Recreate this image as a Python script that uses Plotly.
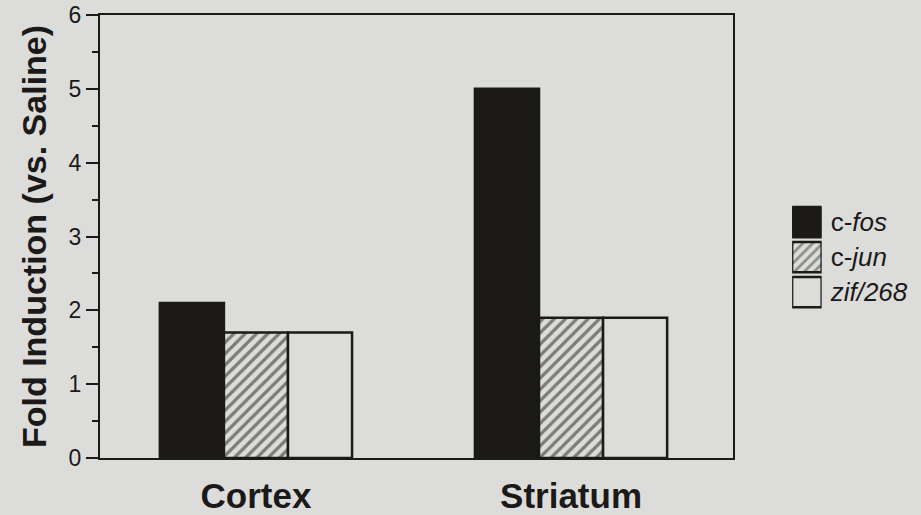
import plotly.graph_objects as go

regions = ["Cortex", "Striatum"]
c_fos = [2.1, 5.0]
c_jun = [1.7, 1.9]
zif268 = [1.7, 1.9]
y_ticks = [0, 1, 2, 3, 4, 5, 6]

series_labels = ["c-<i>fos</i>", "c-<i>jun</i>", "<i>zif/268</i>"]
key_slots = ["fos", "jun", "zif"]

bg = "#dcdddb"
ink = "#1c1a18"
font_family = "Liberation Sans, Arial, sans-serif"

hatch = dict(shape="/", fgcolor=ink, bgcolor=bg, size=8, solidity=0.4)
styles = [
    dict(color=ink, line=dict(color=ink, width=2.5)),
    dict(color=bg, line=dict(color=ink, width=2.5), pattern=hatch),
    dict(color=bg, line=dict(color=ink, width=2.5)),
]

fig = go.Figure()
for vals, label, style in zip([c_fos, c_jun, zif268], series_labels, styles):
    fig.add_trace(go.Bar(x=regions, y=vals, name=label, marker=style,
                         showlegend=False, xaxis="x", yaxis="y"))

# key: one square swatch per series, labelled on its right
fig.add_trace(go.Bar(
    y=key_slots, x=[1, 1, 1], orientation="h", width=0.86,
    marker=dict(color=[ink, bg, bg], line=dict(color=ink, width=2.5),
                pattern=dict(shape=["", "/", ""], fgcolor=ink, bgcolor=bg,
                             size=7, solidity=0.4)),
    showlegend=False, xaxis="x2", yaxis="y2", hoverinfo="skip",
))

fig.update_layout(
    width=921, height=515,
    margin=dict(l=100, r=0, t=15, b=57, autoexpand=False),
    paper_bgcolor=bg, plot_bgcolor=bg,
    barmode="group", bargap=0.39, bargroupgap=0,
    font=dict(family=font_family, color=ink),
    showlegend=False,
    xaxis=dict(
        domain=[0, 0.771], range=[-0.495, 1.514],
        showline=True, linecolor=ink, linewidth=2, mirror=True,
        ticks="", showgrid=False, zeroline=False,
        tickfont=dict(size=35, color=ink, family=font_family, weight="bold"),
        ticklabelstandoff=6,
    ),
    yaxis=dict(
        range=[0, 6], tickvals=y_ticks,
        showline=True, linecolor=ink, linewidth=2, mirror=True,
        ticks="outside", ticklen=12, tickwidth=2, tickcolor=ink,
        minor=dict(dtick=0.5, ticks="outside", ticklen=6, tickwidth=2, tickcolor=ink),
        showgrid=False, zeroline=False,
        tickfont=dict(size=23, color=ink),
        title=dict(text="Fold Induction (vs. Saline)",
                   font=dict(size=34, color=ink, weight="bold"), standoff=12),
    ),
    xaxis2=dict(
        domain=[0.843, 0.879], range=[0, 1], anchor="y2",
        visible=False, fixedrange=True,
    ),
    yaxis2=dict(
        domain=[0.335, 0.572], anchor="x2", side="right",
        categoryorder="array", categoryarray=key_slots[::-1],
        tickvals=key_slots, ticktext=series_labels,
        showline=False, showgrid=False, zeroline=False, ticks="",
        tickfont=dict(size=26, color=ink), ticklabelstandoff=8,
        fixedrange=True,
    ),
)

fig.write_html("out.html")
